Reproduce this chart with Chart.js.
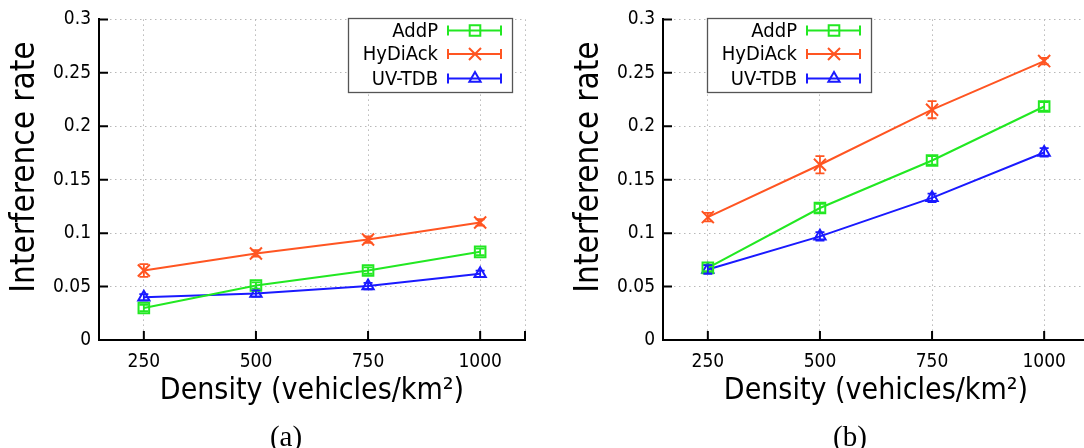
<!DOCTYPE html>
<html><head><meta charset="utf-8">
<script src="https://cdn.jsdelivr.net/npm/chart.js@4"></script>
<style>
html,body{margin:0;padding:0;background:#fff;overflow:hidden;width:1084px;height:448px}
.wrap{position:absolute;top:0;width:545px;height:448px}
</style></head><body>
<div class="wrap" style="left:0"><canvas id="ca"></canvas></div>
<div class="wrap" style="left:564px"><canvas id="cb"></canvas></div>
<script>
// ---- data ----
const densities = [250, 500, 750, 1000];
const xTickValues = [250, 500, 750, 1000, 1100];
const yTickValues = [0, 0.05, 0.1, 0.15, 0.2, 0.25, 0.3];
const seriesNames = ['AddP', 'HyDiAck', 'UV-TDB'];
const xTitle = 'Density (vehicles/km²)';
const yTitle = 'Interference rate';
const captions = ['(a)', '(b)'];

// chart (a)
const addpA = [0.030, 0.051, 0.065, 0.0825];
const hydiackA = [0.065, 0.081, 0.094, 0.110];
const uvtdbA = [0.040, 0.0435, 0.0505, 0.062];
const addpErrA = [0.003, 0.003, 0.003, 0.003];
const hydiackErrA = [0.006, 0.003, 0.003, 0.003];
const uvtdbErrA = [0.003, 0.003, 0.003, 0.003];

// chart (b)
const addpB = [0.0675, 0.1235, 0.168, 0.2185];
const hydiackB = [0.115, 0.164, 0.2155, 0.261];
const uvtdbB = [0.066, 0.097, 0.133, 0.1755];
const addpErrB = [0.003, 0.004, 0.004, 0.004];
const hydiackErrB = [0.004, 0.008, 0.008, 0.003];
const uvtdbErrB = [0.004, 0.004, 0.004, 0.004];

// ---- styles ----
const FONT = '"DejaVu Sans Condensed", "DejaVu Sans", sans-serif';
const colors = ['#22e822', '#ff5522', '#1a1aff'];
const pStyles = ['rect', 'crossRot', 'triangle'];
const pRadius = [7.5, 8.5, 6.5];

function makeChart(id, seriesVals, seriesErrs, legendLeft, caption) {
  const errorPlugin = {
    id: 'errbars',
    afterDatasetsDraw(chart) {
      const ctx = chart.ctx, ys = chart.scales.y;
      chart.data.datasets.forEach((ds, i) => {
        const meta = chart.getDatasetMeta(i);
        ctx.save();
        ctx.strokeStyle = ds.borderColor; ctx.lineWidth = 1.8;
        meta.data.forEach((pt, j) => {
          const v = ds.data[j].y, e = ds.errors[j];
          const y1 = ys.getPixelForValue(v + e), y2 = ys.getPixelForValue(v - e);
          ctx.beginPath();
          ctx.moveTo(pt.x, y1); ctx.lineTo(pt.x, y2);
          ctx.moveTo(pt.x - 4.5, y1); ctx.lineTo(pt.x + 4.5, y1);
          ctx.moveTo(pt.x - 4.5, y2); ctx.lineTo(pt.x + 4.5, y2);
          ctx.stroke();
        });
        ctx.restore();
      });
    }
  };
  const decoPlugin = {
    id: 'deco',
    afterDraw(chart) {
      const ctx = chart.ctx, ca = chart.chartArea;
      const xs = chart.scales.x, ys = chart.scales.y;
      ctx.save();
      // inward tick marks
      ctx.strokeStyle = '#000'; ctx.lineWidth = 2;
      ctx.beginPath();
      yTickValues.forEach(v => {
        const y = ys.getPixelForValue(v);
        ctx.moveTo(ca.left, y); ctx.lineTo(ca.left + 9, y);
      });
      xTickValues.forEach(v => {
        const x = xs.getPixelForValue(v);
        ctx.moveTo(x, ca.bottom); ctx.lineTo(x, ca.bottom - 9);
      });
      ctx.stroke();
      // y axis title
      ctx.save();
      ctx.translate(25, 167);
      ctx.rotate(-Math.PI / 2);
      ctx.fillStyle = '#000';
      ctx.font = '33px ' + FONT;
      ctx.textAlign = 'center'; ctx.textBaseline = 'middle';
      ctx.fillText(yTitle, 0, 0);
      ctx.restore();
      // legend
      const L = legendLeft, T = 18, W = 164, H = 74;
      ctx.fillStyle = '#fff';
      ctx.fillRect(L, T, W, H);
      ctx.strokeStyle = '#555'; ctx.lineWidth = 1.3;
      ctx.strokeRect(L + 0.5, T + 0.5, W, H);
      const rows = [30.5, 54, 78.5];
      ctx.font = '20px ' + FONT;
      ctx.textAlign = 'right'; ctx.textBaseline = 'middle';
      seriesNames.forEach((name, i) => {
        const y = rows[i];
        ctx.fillStyle = '#000';
        ctx.fillText(name, L + 90, y + 1);
        ctx.strokeStyle = colors[i]; ctx.lineWidth = 2;
        ctx.beginPath();
        ctx.moveTo(L + 100, y); ctx.lineTo(L + 153, y);
        ctx.moveTo(L + 100, y - 5); ctx.lineTo(L + 100, y + 5);
        ctx.moveTo(L + 153, y - 5); ctx.lineTo(L + 153, y + 5);
        ctx.stroke();
        ctx.fillStyle = 'rgba(0,0,0,0)';
        Chart.helpers.drawPoint(ctx, {
          pointStyle: pStyles[i], radius: pRadius[i], rotation: 0, borderWidth: 2
        }, L + 127, y);
      });
      // caption
      ctx.fillStyle = '#000';
      ctx.font = '29px "Liberation Serif", serif';
      ctx.textAlign = 'center'; ctx.textBaseline = 'alphabetic';
      ctx.fillText(caption, 286, 446);
      ctx.restore();
    }
  };

  return new Chart(document.getElementById(id), {
    type: 'line',
    data: {
      datasets: seriesNames.map((name, i) => ({
        label: name,
        data: densities.map((d, j) => ({x: d, y: seriesVals[i][j]})),
        errors: seriesErrs[i],
        borderColor: colors[i],
        backgroundColor: 'rgba(0,0,0,0)',
        pointBackgroundColor: 'rgba(0,0,0,0)',
        pointBorderColor: colors[i],
        borderWidth: 2,
        pointBorderWidth: 2,
        pointStyle: pStyles[i],
        pointRadius: pRadius[i],
        pointHoverRadius: pRadius[i],
        tension: 0,
        fill: false
      }))
    },
    options: {
      responsive: true,
      maintainAspectRatio: false,
      animation: false,
      events: [],
      layout: {padding: {left: 0, top: 18, right: 20, bottom: 0}},
      plugins: {legend: {display: false}, tooltip: {enabled: false}, title: {display: false}},
      scales: {
        x: {
          type: 'linear', min: 150, max: 1100,
          afterBuildTicks: s => { s.ticks = xTickValues.map(v => ({value: v})); },
          afterFit: s => { s.height = 108; },
          ticks: {
            callback: v => (v === 1100 ? '' : String(v)),
            font: {family: FONT, size: 19}, color: '#000', padding: 11, maxRotation: 0
          },
          grid: {color: '#b8b8b8', lineWidth: 1, drawTicks: false},
          border: {display: true, color: '#000', width: 2, dash: [1.5, 3.5]},
          title: {display: true, text: xTitle, color: '#000',
                  font: {family: FONT, size: 30}, padding: {top: 0, bottom: 39}}
        },
        y: {
          type: 'linear', min: 0, max: 0.3,
          afterBuildTicks: s => { s.ticks = yTickValues.map(v => ({value: v})); },
          afterFit: s => { s.width = 99; },
          ticks: {
            callback: v => String(+v.toFixed(2)),
            font: {family: FONT, size: 19}, color: '#000', padding: 8
          },
          grid: {color: '#b8b8b8', lineWidth: 1, drawTicks: false},
          border: {display: true, color: '#000', width: 2, dash: [1.5, 3.5]},
          title: {display: false, text: yTitle}
        }
      }
    },
    plugins: [errorPlugin, decoPlugin]
  });
}

makeChart('ca', [addpA, hydiackA, uvtdbA], [addpErrA, hydiackErrA, uvtdbErrA], 348, captions[0]);
makeChart('cb', [addpB, hydiackB, uvtdbB], [addpErrB, hydiackErrB, uvtdbErrB], 143, captions[1]);
</script>
</body></html>
